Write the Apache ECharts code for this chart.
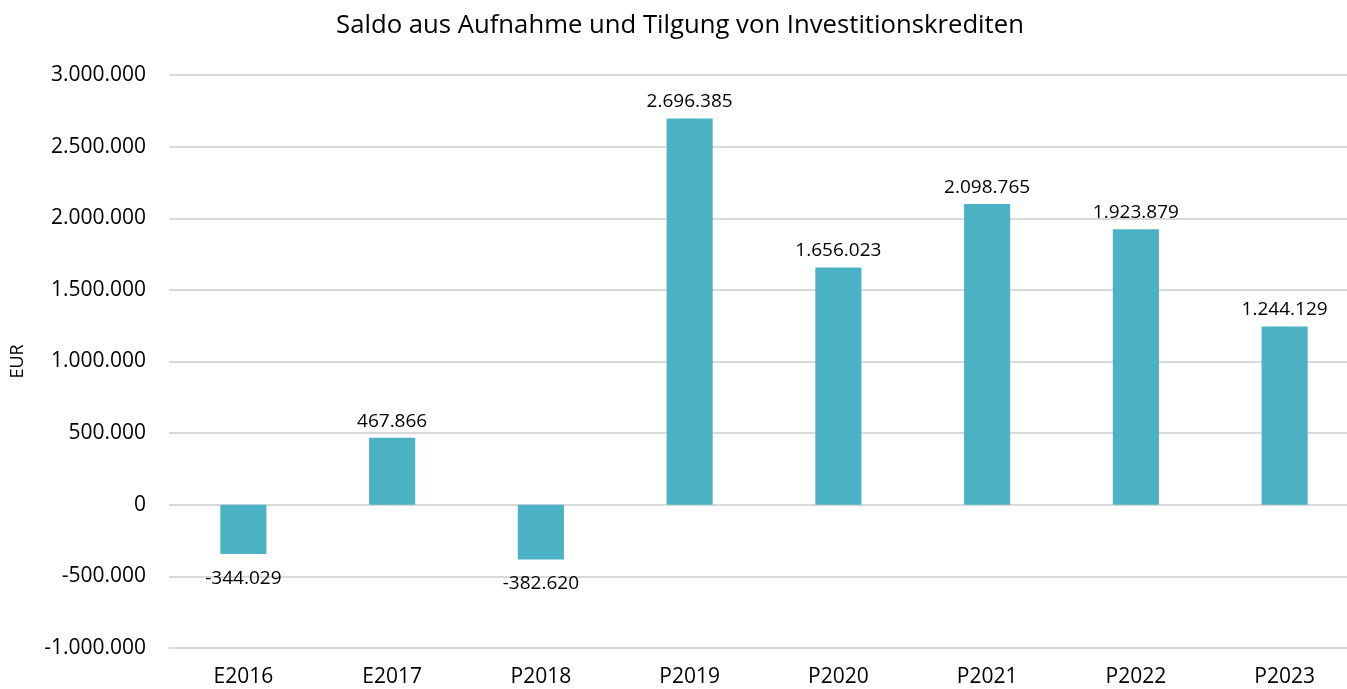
<!DOCTYPE html>
<html>
<head>
<meta charset="utf-8">
<script src="https://cdn.jsdelivr.net/npm/echarts@6/dist/echarts.min.js"></script>
<style>
  html, body { margin: 0; padding: 0; background: #fff; overflow: hidden; }
  #chart { width: 1360px; height: 689px; }
</style>
</head>
<body>
<div id="chart"></div>
<script>
var categories = ['E2016', 'E2017', 'P2018', 'P2019', 'P2020', 'P2021', 'P2022', 'P2023'];
var saldo = [-344029, 467866, -382620, 2696385, 1656023, 2098765, 1923879, 1244129];
var chartTitle = 'Saldo aus Aufnahme und Tilgung von Investitionskrediten';
var axisName = 'EUR';

var fontName = '"Open Sans", sans-serif';

// Zahlen mit Punkt als Tausendertrenner
function deNum(v) {
    var neg = v < 0;
    var s = String(Math.abs(Math.round(v)));
    s = s.replace(/\B(?=(\d{3})+(?!\d))/g, '.');
    return (neg ? '-' : '') + s;
}

var barData = saldo.map(function(v) {
    return {
        value: v,
        label: v < 0 ? { position: 'bottom', distance: 15 } : { position: 'top', distance: 7 }
    };
});

// die letzte Kategorie ragt wie im Original leicht über den Bildrand hinaus
var myChart = echarts.init(document.getElementById('chart'));
myChart.setOption({
    animation: false,
    textStyle: { fontFamily: fontName },
    title: {
        text: chartTitle,
        left: 'center',
        top: 8,
        textStyle: { fontFamily: fontName, fontSize: 25.7, fontWeight: 'normal', color: '#000' }
    },
    grid: { left: 169, top: 75, width: 1190, height: 573 },
    xAxis: {
        type: 'category',
        data: categories,
        axisLine: { show: false },
        axisTick: { show: false },
        axisLabel: { fontSize: 21, color: '#000', margin: 19, fontFamily: fontName }
    },
    yAxis: {
        type: 'value',
        min: -1000000,
        max: 3000000,
        interval: 500000,
        name: axisName,
        nameLocation: 'middle',
        nameGap: 142,
        nameRotate: 90,
        nameTextStyle: { fontSize: 18, color: '#000', fontFamily: fontName },
        axisLine: { show: false },
        axisTick: { show: false },
        axisLabel: { fontSize: 21, color: '#000', margin: 23, formatter: deNum, fontFamily: fontName },
        splitLine: { lineStyle: { color: '#d9d9d9', width: 2 } }
    },
    series: [{
        type: 'bar',
        data: barData,
        barWidth: '31%',
        itemStyle: { color: '#4bb2c5' },
        label: {
            show: true,
            fontSize: 19,
            color: '#000',
            fontFamily: fontName,
            formatter: function(p) { return deNum(p.value); }
        }
    }]
});
</script>
</body>
</html>
